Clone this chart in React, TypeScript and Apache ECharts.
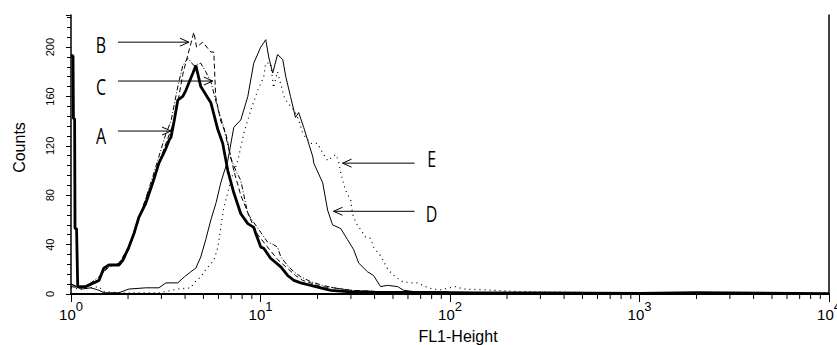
import React, { useEffect, useRef } from "react";
import * as echarts from "echarts";

// FL1-Height (x) and Counts (y)
const seriesA: [number, number][] = [
  [1.0, 193], [1.025, 193], [1.03, 142], [1.045, 142], [1.05, 53], [1.07, 53], [1.085, 6],
  [1.129, 6], [1.2, 6], [1.275, 8], [1.405, 11], [1.49, 21], [1.586, 23.5], [1.79, 23.5],
  [1.88, 27.5], [2.02, 38], [2.15, 49], [2.28, 62], [2.48, 73.5], [2.7, 90], [2.91, 106],
  [3.17, 118], [3.3, 125], [3.37, 127], [3.5, 140], [3.66, 157], [3.89, 160], [4.04, 165],
  [4.4, 179], [4.56, 185], [4.84, 168], [5.47, 155], [5.96, 133], [6.32, 122], [6.72, 100],
  [7.23, 82], [7.87, 65], [8.57, 57], [9.21, 54], [9.44, 49], [10.03, 38], [10.4, 37],
  [11.3, 29], [12.8, 22], [13.9, 15], [15.0, 11], [16.3, 9], [18.4, 7], [23.5, 3],
  [28.8, 2], [40, 1.5], [100, 1], [300, 0.8], [1000, 0.5], [2000, 1], [10000, 0.3],
];

const seriesB: [number, number][] = [
  [1.0, 8], [1.129, 5], [1.275, 8], [1.405, 12], [1.49, 18], [1.586, 23], [1.79, 25],
  [2.02, 38], [2.28, 62], [2.7, 92], [3.17, 122], [3.5, 140], [3.66, 155], [3.89, 178],
  [4.14, 194], [4.45, 212], [4.6, 200], [4.96, 204], [5.47, 196], [5.67, 196], [5.8, 160],
  [6.17, 140], [6.56, 130], [7.23, 100], [7.87, 80], [8.89, 60], [9.67, 48], [10.9, 38],
  [12.3, 28], [13.6, 22], [15.3, 15], [16.7, 11], [18.4, 9], [20.8, 6], [24.3, 5], [30, 3],
  [40, 2], [80, 1.5], [200, 1], [1000, 0.5], [10000, 0.3],
];

const seriesC: [number, number][] = [
  [1.0, 6], [1.129, 5], [1.275, 9], [1.405, 14], [1.586, 22], [1.79, 24], [2.02, 36],
  [2.28, 60], [2.7, 95], [3.17, 130], [3.37, 140], [3.66, 168], [3.89, 185], [4.14, 191],
  [4.45, 185], [4.84, 187], [5.14, 180], [5.47, 172], [5.96, 150], [6.4, 135], [6.97, 110],
  [7.41, 100], [7.87, 92], [8.57, 65], [9.21, 58], [10.03, 50], [10.9, 42], [11.7, 40],
  [12.3, 38], [12.8, 30], [13.9, 23], [15.0, 18], [16.3, 14], [18.4, 10], [21.3, 7],
  [24.3, 5], [30, 3], [40, 2], [80, 1.5], [200, 1], [1000, 0.5], [10000, 0.3],
];

const seriesD: [number, number][] = [
  [1.0, 8], [1.129, 4], [1.275, 5], [1.405, 3], [1.49, 1], [1.79, 1], [2.02, 4], [2.48, 5],
  [2.91, 5], [3.17, 9], [3.37, 9], [3.66, 9], [3.97, 14], [4.29, 18], [4.56, 21], [4.84, 30],
  [5.14, 44], [5.47, 60], [5.83, 74], [6.17, 90], [6.4, 98], [6.72, 108], [7.23, 135],
  [7.87, 141], [8.57, 160], [9.21, 187], [10.03, 200], [10.66, 206], [11.05, 192],
  [11.6, 179], [12.3, 194], [13.1, 190], [13.6, 176], [14.4, 160], [15.3, 143], [15.9, 147],
  [16.9, 135], [17.7, 125], [18.9, 111], [19.1, 106], [21.3, 90], [22.6, 68], [24.0, 56],
  [26.5, 53], [28.8, 44], [31.0, 36], [33.0, 25], [36.7, 18], [39.5, 15], [43.0, 6],
  [46.9, 7], [52.9, 6], [56.9, 3], [64.2, 2], [100, 1.5], [200, 1], [1000, 0.5], [10000, 0.3],
];

const seriesE: [number, number][] = [
  [1.0, 5], [1.129, 4], [1.275, 5], [1.405, 6], [1.49, 2], [1.79, 1], [2.28, 1], [2.91, 1],
  [3.17, 2], [3.66, 4], [4.29, 5], [4.45, 9], [4.84, 14], [5.21, 21], [5.67, 27], [5.96, 38],
  [6.17, 54], [6.4, 70], [6.72, 82], [6.97, 92], [7.59, 108], [8.16, 130], [8.89, 149],
  [9.67, 165], [10.4, 176], [10.66, 187], [11.3, 187], [11.6, 173], [11.7, 167], [12.3, 180],
  [13.3, 160], [13.9, 155], [15.0, 149], [15.9, 141], [16.7, 130], [18.4, 122], [20.0, 122],
  [20.8, 117], [22.6, 108], [24.9, 113], [25.8, 108], [26.5, 98], [28.1, 84], [29.9, 76],
  [30.6, 65], [31.8, 58], [33.8, 52], [35.9, 46], [38.1, 45], [39.5, 38], [43.0, 31],
  [47.4, 19], [51.6, 14], [56.2, 10], [61.9, 9], [67.4, 9], [74.3, 6], [80.9, 4], [89.1, 3.5],
  [107, 6], [118, 4], [145, 3.5], [235, 2], [621, 1], [10000, 0.3],
];

// minor tick values on the log axis
const minorTickValues: number[] = [
  2, 3, 4, 5, 6, 7, 8, 9, 20, 30, 40, 50, 60, 70, 80, 90,
  200, 300, 400, 500, 600, 700, 800, 900, 2000, 3000, 4000, 5000, 6000, 7000, 8000, 9000,
];

// annotations: label, label position, arrow tail, arrow tip (data coords)
const annotationLabels = ["B", "C", "A", "E", "D"];
const labelPos: [number, number][] = [[1.44, 201.6], [1.44, 168], [1.44, 128], [80, 109], [80, 65]];
const arrowTail: [number, number][] = [[1.77, 204], [1.77, 172.5], [1.77, 132], [65, 106], [65, 67]];
const arrowTip: [number, number][] = [[4.19, 204], [5.6, 172.5], [3.37, 132], [27.1, 106], [24.3, 67]];

const FONT = "'Liberation Sans', Arial, sans-serif";

export default function App() {
  const ref = useRef<HTMLDivElement>(null);

  useEffect(() => {
    if (!ref.current) return;
    const chart = echarts.init(ref.current, undefined, { renderer: "svg" });
    const lineSeries = (name: string, data: [number, number][], width: number, type: any) => ({
      name,
      type: "line",
      data,
      showSymbol: false,
      symbol: "none",
      lineStyle: { color: "#000", width, type },
      z: 3,
    });
    chart.setOption({
      animation: false,
      backgroundColor: "#fff",
      grid: {
        left: 71,
        right: 8,
        top: 15,
        bottom: 51,
        containLabel: false,
        outerBoundsMode: "none",
      },
      xAxis: [
        {
          type: "log",
          logBase: 10,
          min: 1,
          max: 10000,
          position: "bottom",
          axisLine: { show: true, lineStyle: { color: "#000", width: 2 } },
          axisTick: { show: true, length: 8, lineStyle: { color: "#000", width: 1 } },
          splitLine: { show: false },
          axisLabel: {
            margin: 6,
            showMaxLabel: true,
            showMinLabel: true,
            color: "#000",
            fontFamily: FONT,
            formatter: (v: number) => `{b|10}{s|${Math.round(Math.log10(v))}}`,
            rich: {
              b: { fontSize: 15, fontFamily: FONT, color: "#000", lineHeight: 22, verticalAlign: "bottom" },
              s: { fontSize: 13, fontFamily: FONT, color: "#000", lineHeight: 13, verticalAlign: "top" },
            },
          },
          name: "FL1-Height",
          nameLocation: "middle",
          nameGap: 35,
          nameTextStyle: {
            color: "#000",
            fontSize: 16,
            lineHeight: 15,
            fontFamily: FONT,
            padding: [0, 0, 0, 16],
          },
        },
        {
          type: "log",
          logBase: 10,
          min: 1,
          max: 10000,
          position: "top",
          axisLine: { show: true, lineStyle: { color: "#000", width: 1.5 } },
          axisTick: { show: false },
          axisLabel: { show: false },
          splitLine: { show: false },
        },
      ],
      yAxis: [
        {
          type: "value",
          min: 0,
          max: 226,
          interval: 40,
          axisLine: { show: true, lineStyle: { color: "#000", width: 1.5 } },
          axisTick: { show: true, length: 5, lineStyle: { color: "#000" } },
          minorTick: { show: true, splitNumber: 5, length: 4, lineStyle: { color: "#000" } },
          splitLine: { show: false },
          axisLabel: {
            rotate: 90,
            margin: 16,
            showMaxLabel: false,
            color: "#000",
            fontSize: 11,
            fontFamily: FONT,
          },
          name: "Counts",
          nameLocation: "middle",
          nameGap: 44,
          nameRotate: 90,
          nameTextStyle: { color: "#000", fontSize: 16, fontFamily: FONT, padding: [0, 0, 0, 14] },
        },
        {
          type: "value",
          min: 0,
          max: 226,
          position: "right",
          axisLine: { show: true, lineStyle: { color: "#000", width: 1.5 } },
          axisTick: { show: false },
          axisLabel: { show: false },
          splitLine: { show: false },
        },
      ],
      series: [
        lineSeries("E", seriesE, 1.2, [1, 4]),
        lineSeries("D", seriesD, 1, "solid"),
        lineSeries("C", seriesC, 1, [5, 2, 1, 2]),
        lineSeries("B", seriesB, 1, [5, 3]),
        lineSeries("A", seriesA, 2.8, "solid"),
        {
          type: "custom",
          silent: true,
          clip: false,
          z: 5,
          data: minorTickValues.map((v) => [v, 0]),
          renderItem: (params: any, api: any) => {
            const p = api.coord([api.value(0), 0]);
            return {
              type: "line",
              shape: { x1: p[0], y1: p[1], x2: p[0], y2: p[1] + 5 },
              style: { stroke: "#000", lineWidth: 1 },
            };
          },
        },
      ],
    });

    const toPx = (v: [number, number]) =>
      chart.convertToPixel({ xAxisIndex: 0, yAxisIndex: 0 }, v) as number[];
    const elements: any[] = [];
    annotationLabels.forEach((label, i) => {
      const lp = toPx(labelPos[i]);
      const tail = toPx(arrowTail[i]);
      const tip = toPx(arrowTip[i]);
      elements.push({
        type: "text",
        x: lp[0],
        y: lp[1],
        scaleY: 1.35,
        style: {
          text: label,
          fill: "#000",
          font: "16px 'Open Sans', 'Noto Sans', sans-serif",
          align: "center",
          verticalAlign: "middle",
        },
      });
      const dx = tip[0] - tail[0];
      const dy = tip[1] - tail[1];
      const len = Math.sqrt(dx * dx + dy * dy) || 1;
      const ux = dx / len;
      const uy = dy / len;
      const px = -uy;
      const py = ux;
      elements.push({
        type: "line",
        shape: { x1: tail[0], y1: tail[1], x2: tip[0], y2: tip[1] },
        style: { stroke: "#000", lineWidth: 1 },
      });
      elements.push({
        type: "polyline",
        shape: {
          points: [
            [tip[0] - ux * 9 + px * 4, tip[1] - uy * 9 + py * 4],
            [tip[0], tip[1]],
            [tip[0] - ux * 9 - px * 4, tip[1] - uy * 9 - py * 4],
          ],
        },
        style: { stroke: "#000", lineWidth: 1, fill: "none" },
      });
    });
    chart.setOption({ graphic: { elements } });

    return () => chart.dispose();
  }, []);

  return (
    <div
      ref={ref}
      style={{ position: "absolute", left: 0, top: 0, width: 837, height: 345 }}
    />
  );
}
